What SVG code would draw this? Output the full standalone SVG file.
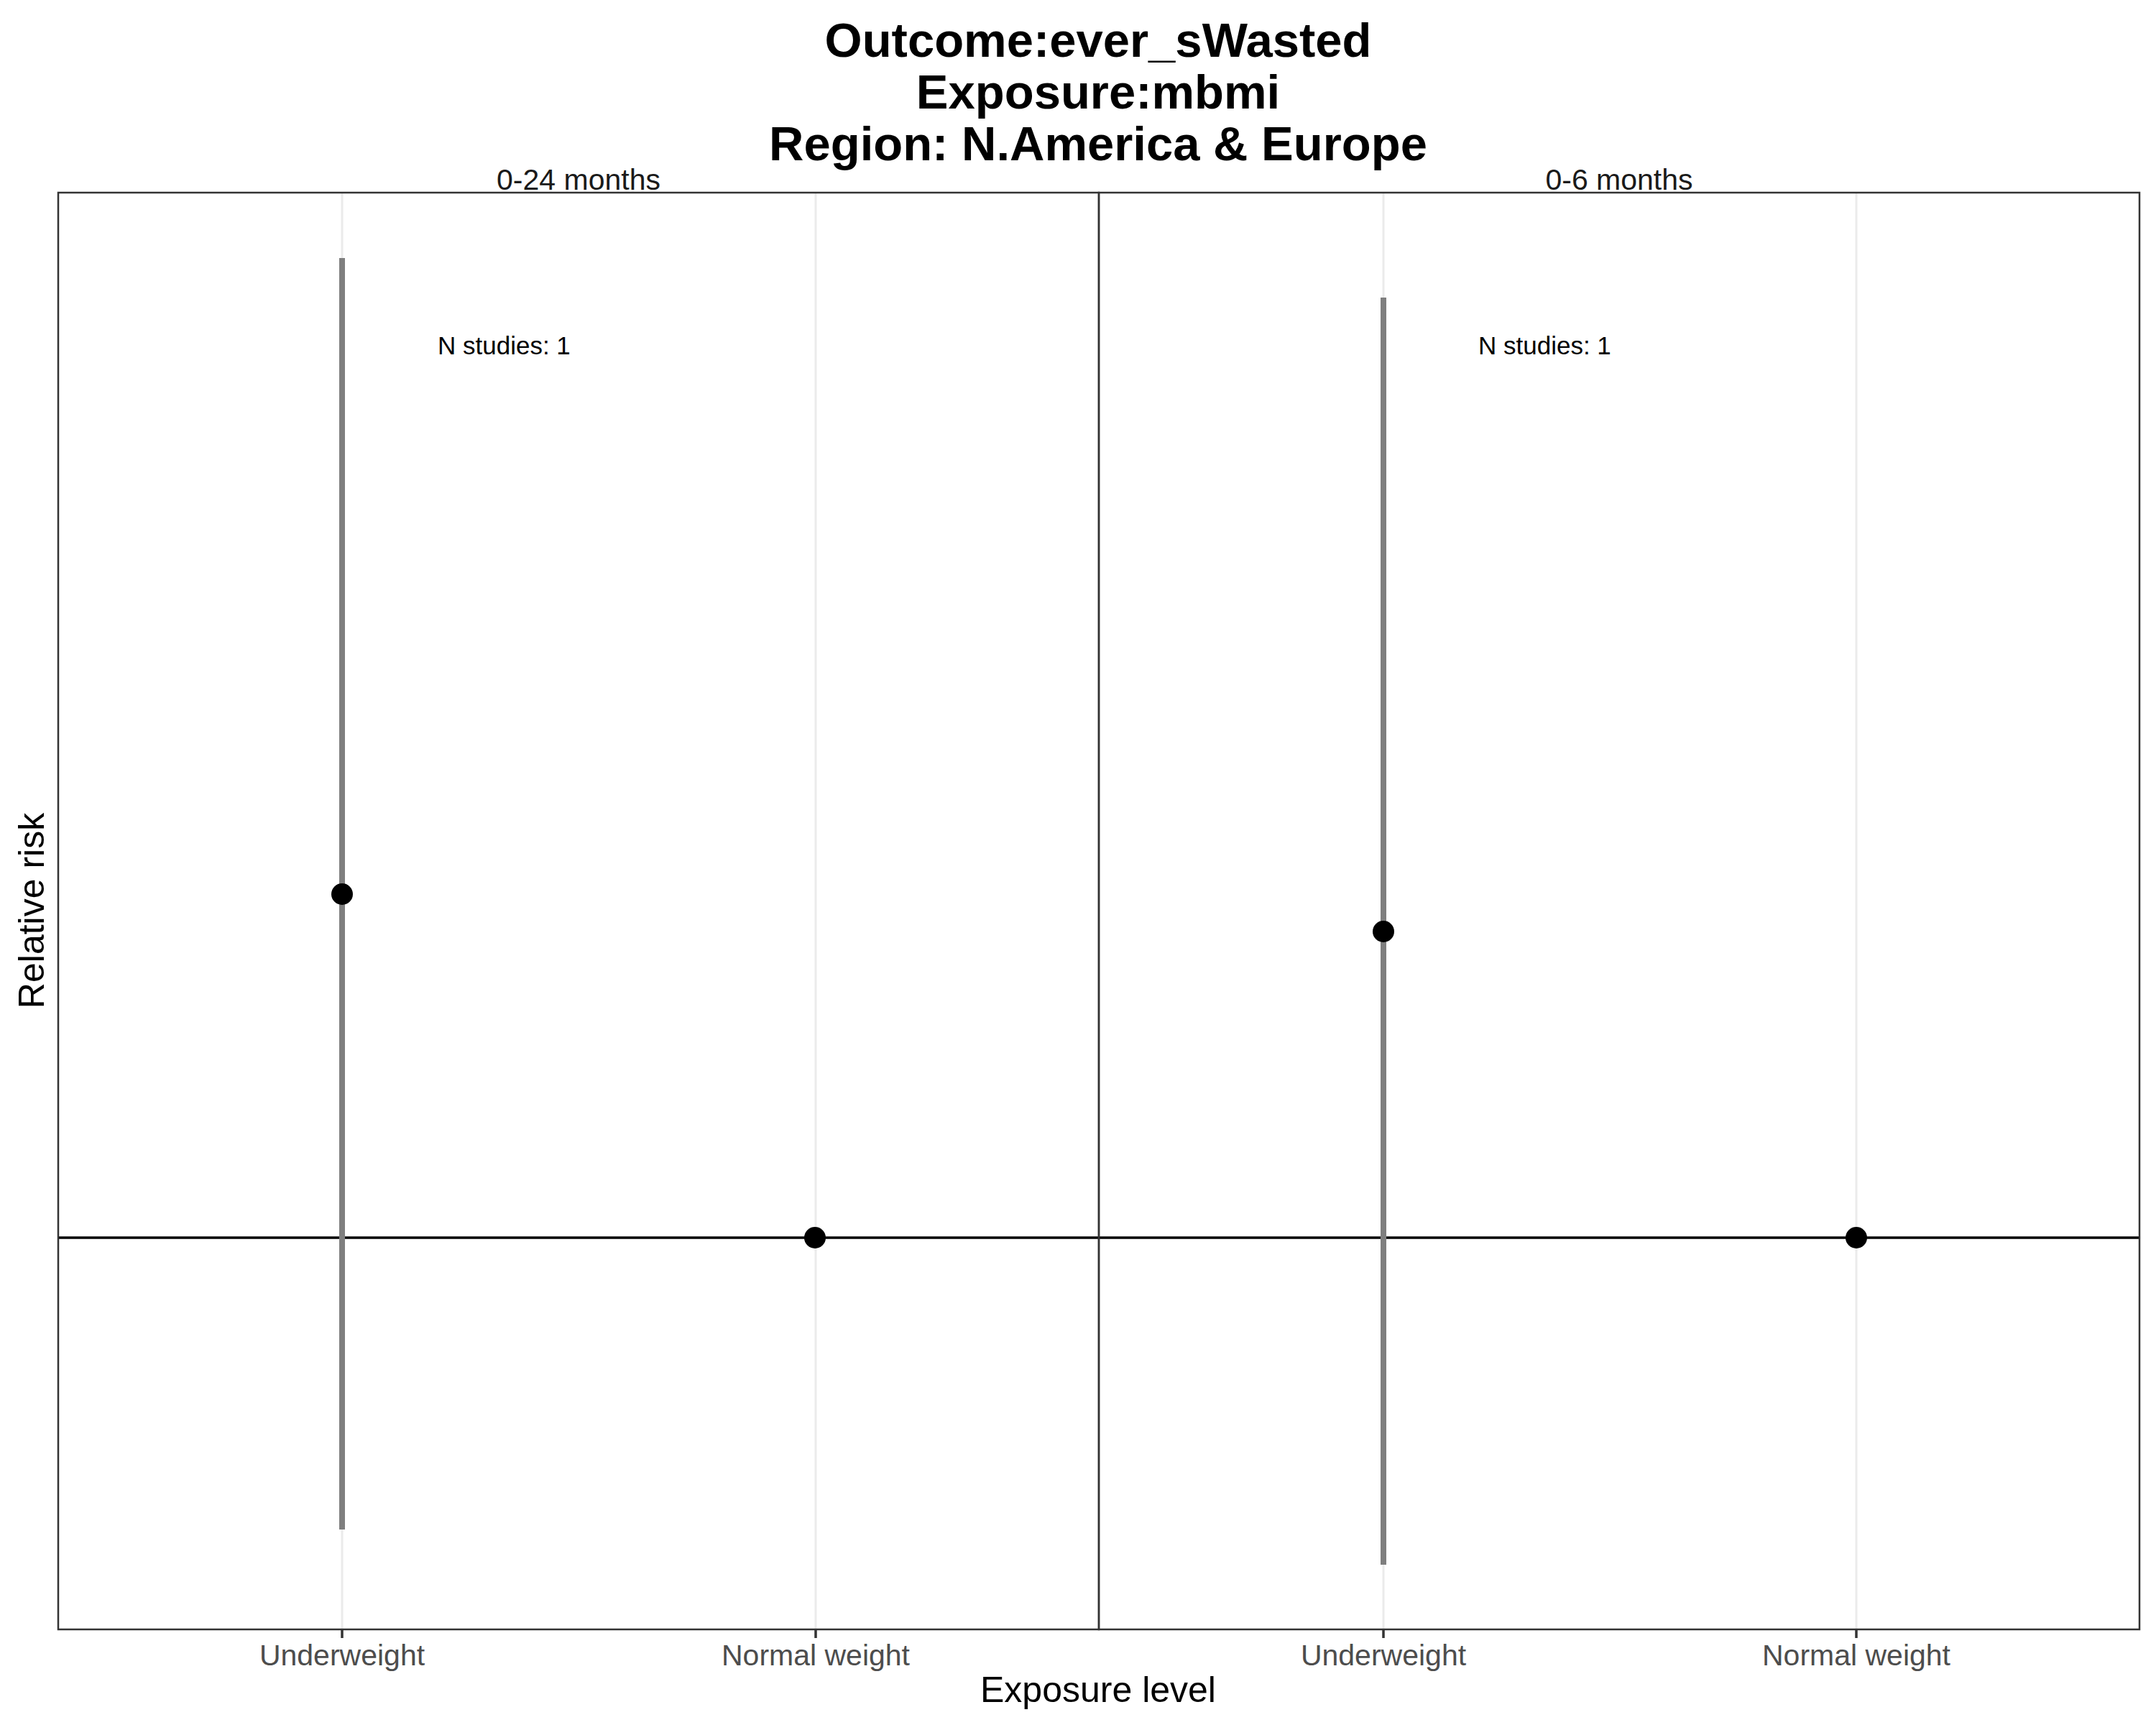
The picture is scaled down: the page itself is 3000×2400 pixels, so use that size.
<svg xmlns="http://www.w3.org/2000/svg" width="3000" height="2400" viewBox="0 0 3000 2400">
<style>
text{font-family:"Liberation Sans",Arial,sans-serif}
.title{font-size:67px;font-weight:bold;fill:#000;text-anchor:middle}
.strip{font-size:41px;fill:#1a1a1a;text-anchor:middle}
.tick{font-size:41px;fill:#4d4d4d;text-anchor:middle}
.axt{font-size:50px;fill:#000;text-anchor:middle}
.ann{font-size:35px;fill:#000}
.grid{stroke:#ebebeb;stroke-width:3;fill:none}
.border{stroke:#333333;stroke-width:2.5;fill:none}
.tk{stroke:#333333;stroke-width:3.5}
.ci{stroke:#7f7f7f;stroke-width:8}
.ref{stroke:#000;stroke-width:3.5}
.pt{fill:#000}
</style>
<rect x="0" y="0" width="3000" height="2400" fill="#fff"/>
<g id="title">
<text class="title" x="1528" y="79">Outcome:ever_sWasted</text>
<text class="title" x="1528" y="151">Exposure:mbmi</text>
<text class="title" x="1528" y="223">Region: N.America &amp; Europe</text>
</g>
<g id="panel1">
<rect x="81" y="268" width="1448" height="1999" fill="#fff"/>
<line class="grid" x1="476" y1="268" x2="476" y2="2267"/>
<line class="grid" x1="1135" y1="268" x2="1135" y2="2267"/>
<text class="strip" x="805" y="264">0-24 months</text>
<text class="ann" x="609" y="493">N studies: 1</text>
</g>
<g id="panel2">
<rect x="1529" y="268" width="1448" height="1999" fill="#fff"/>
<line class="grid" x1="1925" y1="268" x2="1925" y2="2267"/>
<line class="grid" x1="2583" y1="268" x2="2583" y2="2267"/>
<text class="strip" x="2253" y="264">0-6 months</text>
<text class="ann" x="2057" y="493">N studies: 1</text>
</g>
<g id="connectors">
<line class="ref" x1="81" y1="1722" x2="1529" y2="1722"/>
<line class="ref" x1="1529" y1="1722" x2="2977" y2="1722"/>
<line class="ci" x1="476" y1="359" x2="476" y2="2128"/>
<line class="ci" x1="1925" y1="414" x2="1925" y2="2177"/>
</g>
<g id="points">
<circle class="pt" cx="476" cy="1244" r="15"/>
<circle class="pt" cx="1134" cy="1722" r="15"/>
<circle class="pt" cx="1925" cy="1296" r="15"/>
<circle class="pt" cx="2583" cy="1722" r="15"/>
</g>
<g id="borders">
<rect class="border" x="81" y="268" width="1448" height="1999"/>
<rect class="border" x="1529" y="268" width="1448" height="1999"/>
</g>
<g id="axis">
<line class="tk" x1="476" y1="2267" x2="476" y2="2279"/>
<line class="tk" x1="1135" y1="2267" x2="1135" y2="2279"/>
<line class="tk" x1="1925" y1="2267" x2="1925" y2="2279"/>
<line class="tk" x1="2583" y1="2267" x2="2583" y2="2279"/>
<text class="tick" x="476" y="2317">Underweight</text>
<text class="tick" x="1135" y="2317">Normal weight</text>
<text class="tick" x="1925" y="2317">Underweight</text>
<text class="tick" x="2583" y="2317">Normal weight</text>
<text class="axt" x="1528" y="2368">Exposure level</text>
<text class="axt" transform="translate(61,1267) rotate(-90)">Relative risk</text>
</g>
</svg>
